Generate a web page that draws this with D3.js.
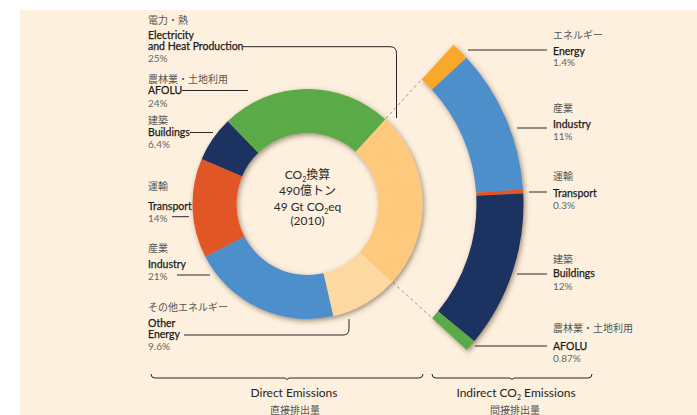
<!DOCTYPE html>
<html>
<head>
<meta charset="utf-8">
<script src="https://cdn.jsdelivr.net/npm/d3@7"></script>
<style>
  html, body { margin: 0; padding: 0; background: #ffffff; }
  svg text { font-family: Lato, "Noto Sans CJK JP", sans-serif; }
</style>
</head>
<body>
<div id="chart"></div>
<script>
// direct emissions by sector (share of 49 GtCO2eq, 2010)
const directJa = ["電力・熱", "その他エネルギー", "産業", "運輸", "建築", "農林業・土地利用"];
const directEn = [["Electricity", "and Heat Production"], ["Other", "Energy"], ["Industry"], ["Transport"], ["Buildings"], ["AFOLU"]];
const directShare = [25, 9.6, 21, 14, 6.4, 24];

// indirect CO2 emissions (electricity & heat re-allocated)
const indirectJa = ["エネルギー", "産業", "運輸", "建築", "農林業・土地利用"];
const indirectEn = ["Energy", "Industry", "Transport", "Buildings", "AFOLU"];
const indirectShare = [1.4, 11, 0.3, 12, 0.87];

const directColors = ["#fec97b", "#fdd9a1", "#4e8fcb", "#e15526", "#1c3160", "#5aaa46"];
const indirectColors = ["#f8a82a", "#4e8fcb", "#e15526", "#1c3160", "#5aaa46"];

const W = 697, H = 415;
const cx = 307.5, cy = 204;
const rIn = 71, rOut = 115;
const rIn2 = 169, rOut2 = 216;
const startDeg = 42.5;

// label layout (centres of text lines)
const directLayout = [
  {ja: 20, en: [35, 46.7], pct: 58.5},
  {ja: 307, en: [323, 334.5], pct: 346},
  {ja: 248, en: [264], pct: 276},
  {ja: 186, en: [206.5], pct: 218},
  {ja: 120, en: [132.5], pct: 144.5},
  {ja: 79.5, en: [90.5], pct: 103.5}
];
const directLeaders = [
  "M243,46.7 H390 Q396.5,46.7 396.5,53.2 V118",
  "M184,335 H343 Q349,335 349,329 V319",
  "M177,275 H210",
  "M172,216.7 H189",
  "M190,132.5 H213",
  "M182,90.5 H248"
];
const indirectLayout = [
  {ja: 35, en: 51, pct: 62, line: 50, x0: 468},
  {ja: 108, en: 124, pct: 136, line: 128, x0: 517},
  {ja: 176, en: 193, pct: 205, line: 192, x0: 529},
  {ja: 259, en: 273.5, pct: 286, line: 274, x0: 517},
  {ja: 328, en: 346.5, pct: 358.5, line: 346, x0: 475}
];
const leftX = 148, rightX = 553;

const svg = d3.select("#chart").append("svg")
  .attr("width", W).attr("height", H);

const defs = svg.append("defs");
defs.append("filter").attr("id", "shadow")
  .attr("x", "-20%").attr("y", "-20%").attr("width", "140%").attr("height", "140%")
  .append("feDropShadow")
  .attr("dx", 1.5).attr("dy", 2).attr("stdDeviation", 2.5)
  .attr("flood-color", "#3b2814").attr("flood-opacity", 0.5);

svg.append("rect").attr("x", 20).attr("y", 10)
  .attr("width", W - 20).attr("height", H - 10).attr("fill", "#fef0de");

const rad = Math.PI / 180;
const pie = d3.pie().sort(null).value(d => d)
  .startAngle(startDeg * rad).endAngle(startDeg * rad + 2 * Math.PI);
const directArcs = pie(directShare);
const elec = directArcs[0];

const pie2 = d3.pie().sort(null).value(d => d)
  .startAngle(elec.startAngle).endAngle(elec.endAngle);
const indirectArcs = pie2(indirectShare);

const arc1 = d3.arc().innerRadius(rIn).outerRadius(rOut);
const arc2 = d3.arc().innerRadius(rIn2).outerRadius(rOut2);

const pt = (a, r) => [cx + r * Math.sin(a), cy - r * Math.cos(a)];

// dashed connectors from the electricity slice to the indirect ring
[elec.startAngle, elec.endAngle].forEach(a => {
  const p0 = pt(a, rOut + 1), p1 = pt(a, rIn2 - 1);
  svg.append("line")
    .attr("x1", p0[0]).attr("y1", p0[1]).attr("x2", p1[0]).attr("y2", p1[1])
    .attr("stroke", "#8a8580").attr("stroke-width", 0.9)
    .attr("stroke-dasharray", "3,3");
});

svg.append("g")
  .attr("transform", `translate(${cx},${cy})`)
  .attr("filter", "url(#shadow)")
  .selectAll("path")
  .data(directArcs)
  .join("path")
  .attr("d", arc1)
  .attr("fill", (d, i) => directColors[i]);

svg.append("g")
  .attr("transform", `translate(${cx},${cy})`)
  .attr("filter", "url(#shadow)")
  .selectAll("path")
  .data(indirectArcs)
  .join("path")
  .attr("d", arc2)
  .attr("fill", (d, i) => indirectColors[i]);

// centre text
const centre = svg.append("g").attr("text-anchor", "middle")
  .style("font-size", "12px").attr("fill", "#2b2b2b");
const t1 = centre.append("text").attr("x", cx).attr("y", 178.5);
t1.append("tspan").text("CO");
t1.append("tspan").text("2").style("font-size", "7px").attr("dy", 3);
t1.append("tspan").text("換算").attr("dy", -3);
centre.append("text").attr("x", cx).attr("y", 194.5).text("490億トン");
const t3 = centre.append("text").attr("x", cx).attr("y", 211);
t3.append("tspan").text("49 Gt CO");
t3.append("tspan").text("2").style("font-size", "7px").attr("dy", 3);
t3.append("tspan").text("eq").attr("dy", -3);
centre.append("text").attr("x", cx).attr("y", 225).text("(2010)");

const lineColor = "#2a2625";

// English label style: medium-dark, slightly thickened regular weight
function enStyle(sel) {
  sel.style("font-size", "10.5px").attr("fill", "#1a1a1a")
    .attr("stroke", "#1a1a1a").attr("stroke-width", 0.25);
}

// direct labels (left)
const dl = svg.append("g");
directJa.forEach((ja, i) => {
  const L = directLayout[i];
  dl.append("text").attr("x", leftX).attr("y", L.ja).attr("dy", "0.35em")
    .style("font-size", "10px").attr("fill", "#555").text(ja);
  directEn[i].forEach((s, j) => {
    dl.append("text").attr("x", leftX).attr("y", L.en[j]).attr("dy", "0.35em")
      .call(enStyle).text(s);
  });
  dl.append("text").attr("x", leftX).attr("y", L.pct).attr("dy", "0.35em")
    .style("font-size", "10px").attr("fill", "#666").text(directShare[i] + "%");
  dl.append("path").attr("d", directLeaders[i]).attr("fill", "none")
    .attr("stroke", lineColor).attr("stroke-width", 1);
});

// indirect labels (right)
const il = svg.append("g");
indirectJa.forEach((ja, i) => {
  const L = indirectLayout[i];
  il.append("text").attr("x", rightX).attr("y", L.ja).attr("dy", "0.35em")
    .style("font-size", "10px").attr("fill", "#555").text(ja);
  il.append("text").attr("x", rightX).attr("y", L.en).attr("dy", "0.35em")
    .call(enStyle).text(indirectEn[i]);
  il.append("text").attr("x", rightX).attr("y", L.pct).attr("dy", "0.35em")
    .style("font-size", "10px").attr("fill", "#666").text(indirectShare[i] + "%");
  il.append("line").attr("x1", L.x0).attr("x2", 547).attr("y1", L.line).attr("y2", L.line)
    .attr("stroke", lineColor).attr("stroke-width", 1);
});

// brackets
function bracket(x0, x1, y) {
  const m = (x0 + x1) / 2;
  svg.append("path")
    .attr("d", `M${x0},${y - 4} Q${x0},${y} ${x0 + 4},${y} H${m - 2} L${m},${y + 1.5} L${m + 2},${y} H${x1 - 4} Q${x1},${y} ${x1},${y - 4}`)
    .attr("fill", "none").attr("stroke", lineColor).attr("stroke-width", 1);
}
bracket(151, 423, 378);
bracket(432, 592, 378);

const bt = svg.append("g").attr("text-anchor", "middle");
bt.append("text").attr("x", 294).attr("y", 397).style("font-size", "12px")
  .attr("fill", "#222").text("Direct Emissions");
bt.append("text").attr("x", 295).attr("y", 414).style("font-size", "10px")
  .attr("fill", "#555").text("直接排出量");
const it = bt.append("text").attr("x", 516).attr("y", 397).style("font-size", "12px").attr("fill", "#222");
it.append("tspan").text("Indirect CO");
it.append("tspan").text("2").style("font-size", "7px").attr("dy", 3);
it.append("tspan").text(" Emissions").attr("dy", -3);
bt.append("text").attr("x", 515).attr("y", 414).style("font-size", "10px")
  .attr("fill", "#555").text("間接排出量");
</script>
</body>
</html>
